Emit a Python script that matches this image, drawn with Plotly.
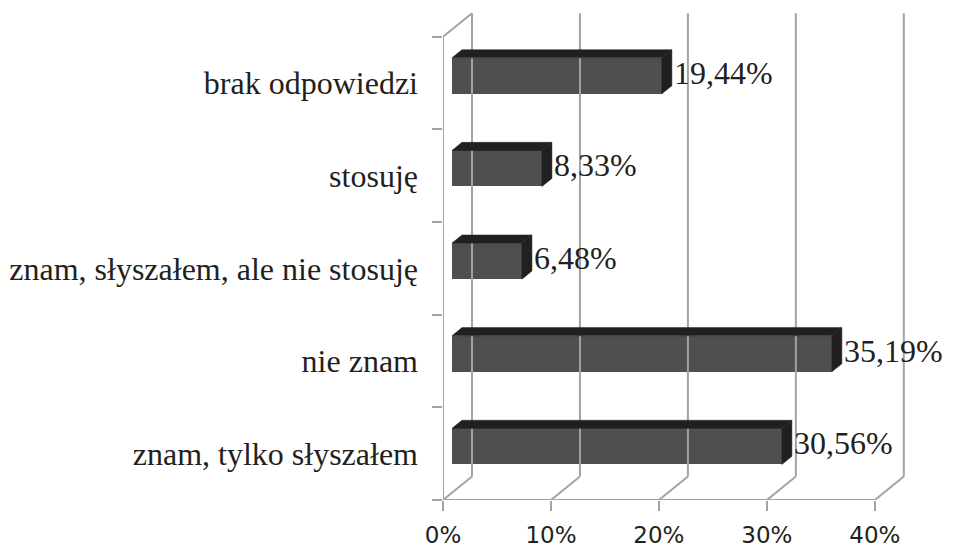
import plotly.graph_objects as go

# ---- data ----
categories = ["znam, tylko słyszałem", "nie znam", "znam, słyszałem, ale nie stosuję", "stosuję", "brak odpowiedzi"]
values = [30.56, 35.19, 6.48, 8.33, 19.44]
value_labels = ["30,56%", "35,19%", "6,48%", "8,33%", "19,44%"]
x_ticks = [0, 10, 20, 30, 40]
x_tick_labels = ["0%", "10%", "20%", "30%", "40%"]

# ---- 3D look parameters (data units) ----
DX, DY = 2.686, 0.2537      # full depth offset of the back wall
F0, D = 0.31, 0.345         # bar front depth fraction, bar thickness fraction
H = 0.389                   # bar height (category units)
XMAX = 40
GRID = "#a3a3a3"
FRONT = "#4e4f51"
DARK = "#221f20"
TXT = "#231f20"

ypos = list(range(len(categories)))

fig = go.Figure()

# walls / grid
wx, wy = [], []
for t in x_ticks:  # back wall verticals
    wx += [t + DX, t + DX, None]
    wy += [-0.5 + DY, 4.5 + DY, None]
for t in x_ticks:  # floor diagonals
    wx += [t, t + DX, None]
    wy += [-0.5, -0.5 + DY, None]
# floor front line
wx += [0, XMAX, None]; wy += [-0.5, -0.5, None]
# left wall front line + top diagonal
wx += [0, 0, DX, None]; wy += [-0.5, 4.5, 4.5 + DY, None]
fig.add_trace(go.Scatter(x=wx, y=wy, mode="lines", line=dict(color=GRID, width=2),
                         hoverinfo="skip", showlegend=False))

x0 = F0 * DX
# front faces
fig.add_trace(go.Bar(orientation="h", x=values, y=[c + F0 * DY for c in ypos], base=x0,
                     width=H, marker=dict(color=FRONT, line=dict(width=0)),
                     showlegend=False, hoverinfo="skip"))

# top & side faces
for v, c in zip(values, ypos):
    yc = c + F0 * DY
    yt, yb = yc + H / 2, yc - H / 2
    ddx, ddy = D * DX, D * DY
    fig.add_trace(go.Scatter(
        x=[x0, x0 + v, x0 + v + ddx, x0 + ddx, x0],
        y=[yt, yt, yt + ddy, yt + ddy, yt],
        fill="toself", fillcolor=DARK, mode="lines", line=dict(color=DARK, width=0.5),
        hoverinfo="skip", showlegend=False))
    fig.add_trace(go.Scatter(
        x=[x0 + v, x0 + v, x0 + v + ddx, x0 + v + ddx, x0 + v],
        y=[yb, yt, yt + ddy, yb + ddy, yb],
        fill="toself", fillcolor=DARK, mode="lines", line=dict(color=DARK, width=0.5),
        hoverinfo="skip", showlegend=False))

# value labels
fig.add_trace(go.Scatter(
    x=[v + (F0 + D) * DX + 0.2 for v in values],
    y=[c + F0 * DY for c in ypos],
    mode="text", text=value_labels, textposition="middle right",
    textfont=dict(family="Liberation Serif", size=32, color=TXT),
    cliponaxis=False, hoverinfo="skip", showlegend=False))

fig.update_layout(
    width=945, height=544,
    margin=dict(l=435, r=35, t=1, b=52, autoexpand=False),
    paper_bgcolor="white", plot_bgcolor="white",
    bargap=0,
    xaxis=dict(range=[0, 44], tickvals=x_ticks, ticktext=x_tick_labels,
               ticks="outside", ticklen=10, tickwidth=2, tickcolor=GRID,
               showline=False, showgrid=False, zeroline=False, automargin=False,
               ticklabelstandoff=4,
               tickfont=dict(family="DejaVu Sans", size=23, color=TXT)),
    yaxis=dict(range=[-0.5, 4.8], tickvals=ypos, ticktext=categories,
               ticks="", showline=False, showgrid=False, zeroline=False,
               ticklabelstandoff=24, automargin=False,
               minor=dict(ticks="outside", tick0=0.5, dtick=1, ticklen=10,
                          tickwidth=2, tickcolor=GRID),
               tickfont=dict(family="Liberation Serif", size=32, color=TXT)),
)

fig.write_html("out.html")
